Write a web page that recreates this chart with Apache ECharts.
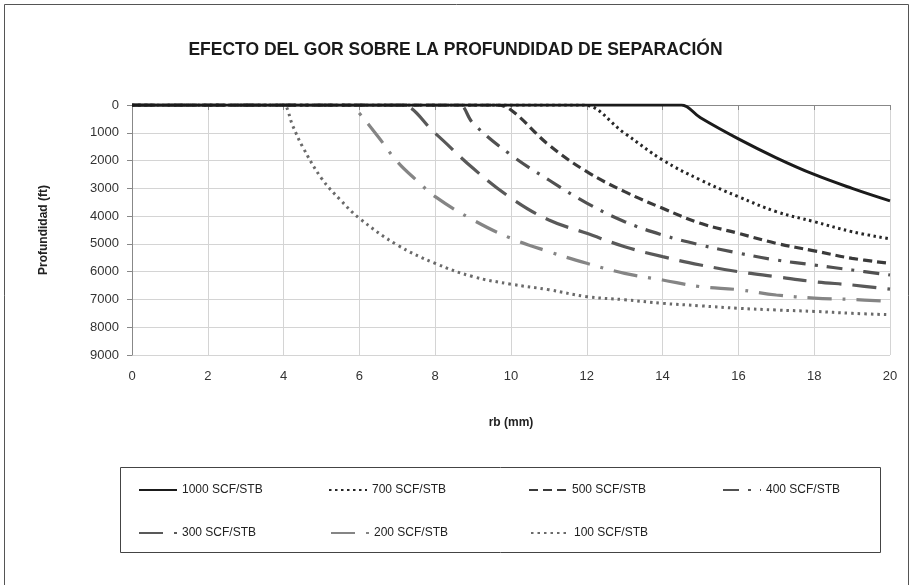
<!DOCTYPE html>
<html><head><meta charset="utf-8">
<script src="https://cdn.jsdelivr.net/npm/echarts@6/dist/echarts.min.js"></script>
<style>html,body{margin:0;padding:0;background:#fff}#c{width:911px;height:585px}</style>
</head><body><div id="c"></div>
<script>
const titleText = 'EFECTO DEL GOR SOBRE LA PROFUNDIDAD DE SEPARACIÓN';
const xName = 'rb (mm)';
const yName = 'Profundidad (ft)';
const seriesNames = ['1000 SCF/STB','700 SCF/STB','500 SCF/STB','400 SCF/STB','300 SCF/STB','200 SCF/STB','100 SCF/STB'];

const rb1000 = [0, 14.45, 14.5, 15, 16, 17, 18, 19, 20];
const d1000  = [0, 0, 0, 460, 1220, 1900, 2500, 3000, 3450];
const rb700 = [0, 11.8, 11.9, 13, 14, 15, 16, 17, 18, 19, 20];
const d700  = [0, 0, 0, 1020, 1980, 2700, 3300, 3840, 4200, 4560, 4820];
const rb500 = [0, 9.5, 9.6, 10, 11, 12, 13, 14, 15, 16, 17, 18, 19, 20];
const d500  = [0, 0, 0, 180, 1440, 2400, 3120, 3720, 4260, 4620, 4980, 5250, 5520, 5700];
const rb400 = [0, 8.55, 8.65, 9, 10, 11, 12, 13, 14, 15, 16, 17, 18, 19, 20];
const d400  = [0, 0, 0, 660, 1800, 2700, 3530, 4200, 4680, 5040, 5330, 5580, 5760, 5940, 6120];
const rb300 = [0, 7.0, 7.1, 8, 9, 10, 11, 12, 13, 14, 15, 16, 17, 18, 19, 20];
const d300  = [0, 0, 0, 1020, 2280, 3350, 4140, 4620, 5100, 5460, 5760, 6000, 6180, 6360, 6480, 6630];
const rb200 = [0, 5.7, 5.8, 6, 6.5, 7, 7.5, 8, 9, 10, 11, 12, 13, 14, 15, 16, 17, 18, 19, 20];
const d200  = [0, 0, 0, 300, 1150, 2040, 2700, 3300, 4140, 4800, 5280, 5700, 6060, 6300, 6540, 6650, 6840, 6950, 7000, 7070];
const rb100 = [0, 3.9, 4, 4.25, 4.5, 5, 5.5, 6, 7, 8, 9, 10, 11, 12, 13, 14, 15, 16, 17, 18, 19, 20];
const d100  = [0, 0, 0, 780, 1500, 2640, 3420, 4080, 5040, 5700, 6180, 6450, 6650, 6900, 7010, 7140, 7230, 7320, 7380, 7430, 7500, 7550];

const xTicks = {min: 0, max: 20, interval: 2};
const yTicks = {min: 0, max: 9000, interval: 1000};

const xs = [rb1000, rb700, rb500, rb400, rb300, rb200, rb100];
const ys = [d1000, d700, d500, d400, d300, d200, d100];
const styles = [
  {color:'#1b1b1b', width:3, type:'solid'},
  {color:'#262626', width:3, type:[2.5,3.5]},
  {color:'#3a3a3a', width:3.2, type:[9,5]},
  {color:'#515151', width:3.2, type:[16,9,3,9]},
  {color:'#595959', width:3.2, type:[24,11]},
  {color:'#858585', width:3.2, type:[24,11,3,11]},
  {color:'#6a6a6a', width:3, type:[2.5,4]}
];
const legendPos = [[138,484],[328,484],[528,484],[722,484],[138,527],[330,527],[530,527]];

const chart = echarts.init(document.getElementById('c'), null, {renderer:'canvas'});
chart.setOption({
  backgroundColor:'#fff',
  animation:false,
  title:{text:titleText, left:'center', top:36,
    textStyle:{fontFamily:'Liberation Sans, Arial', fontSize:17.5, fontWeight:'bold', color:'#1a1a1a'}},
  grid:{left:132, right:21, top:105, bottom:230},
  xAxis:{type:'value', min:xTicks.min, max:xTicks.max, interval:xTicks.interval,
    name:xName, nameLocation:'middle', nameGap:62,
    nameTextStyle:{fontFamily:'Liberation Sans, Arial', fontSize:12, fontWeight:'bold', color:'#222'},
    axisLine:{lineStyle:{color:'#888', width:1}},
    axisTick:{show:true, length:5, lineStyle:{color:'#888'}},
    axisLabel:{margin:15, fontFamily:'Liberation Sans, Arial', fontSize:13, color:'#333'},
    splitLine:{show:true, lineStyle:{color:'#d4d4d4', width:1}}},
  yAxis:{type:'value', inverse:true, min:yTicks.min, max:yTicks.max, interval:yTicks.interval,
    name:yName, nameLocation:'middle', nameGap:82, nameRotate:90,
    nameTextStyle:{fontFamily:'Liberation Sans, Arial', fontSize:12, fontWeight:'bold', color:'#222'},
    axisLine:{show:true, lineStyle:{color:'#888', width:1}},
    axisTick:{show:true, length:5, lineStyle:{color:'#888'}},
    axisLabel:{margin:13, fontFamily:'Liberation Sans, Arial', fontSize:13, color:'#333',
      formatter:(v)=>String(v)},
    splitLine:{show:true, lineStyle:{color:'#d4d4d4', width:1}}},
  legend: seriesNames.map((n,i)=>({data:[n], left:legendPos[i][0], top:legendPos[i][1],
    itemWidth:38, itemHeight:12, padding:0, itemStyle:{opacity:0},
    textStyle:{fontFamily:'Liberation Sans, Arial', fontSize:12, color:'#222'}})),
  graphic:[
    {type:'rect', shape:{x:4.5, y:4.5, width:904, height:600}, style:{fill:null, stroke:'#555', lineWidth:1}, silent:true},
    {type:'rect', shape:{x:120.5, y:467.5, width:760, height:85}, style:{fill:null, stroke:'#444', lineWidth:1}, silent:true}
  ],
  series: seriesNames.map((n,i)=>({
    name:n, type:'line', showSymbol:false, symbol:'none', smooth:0.4,
    data: xs[i].map((x,j)=>[x, ys[i][j]]),
    lineStyle:{color:styles[i].color, width:styles[i].width, type:styles[i].type},
    itemStyle:{color:styles[i].color},
    z: 10 - i
  }))
});
</script></body></html>
